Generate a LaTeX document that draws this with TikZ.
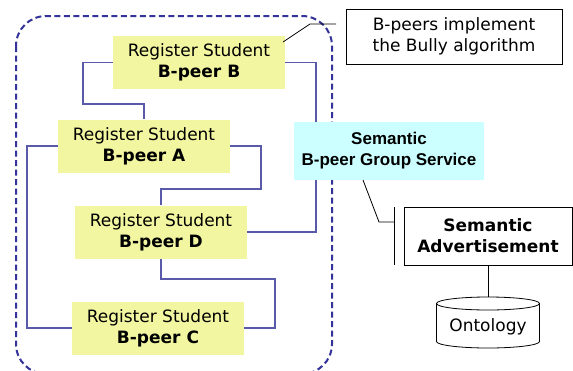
\documentclass[tikz,border=0pt]{standalone}
\usepackage{fontspec}
\setmainfont{DejaVu Sans}
\newfontfamily\arialfont{Liberation Sans}
\definecolor{peeryellow}{RGB}{243,246,160}
\definecolor{svccyan}{RGB}{204,255,255}
\definecolor{linkblue}{RGB}{90,90,170}
\definecolor{dashblue}{RGB}{51,51,153}
\begin{document}
\begin{tikzpicture}[x=1pt,y=-1pt,
  peer/.style={fill=peeryellow, minimum width=172pt, minimum height=53pt, inner sep=0pt, align=center, font=\fontsize{17}{21}\selectfont, execute at begin node={\rule{0pt}{16pt}}},
  svc/.style={fill=svccyan, minimum width=190pt, minimum height=58pt, inner sep=0pt, align=center, font=\arialfont\bfseries\fontsize{17}{21}\selectfont},
  notebox/.style={draw=black, line width=0.8pt, fill=white, minimum width=216pt, minimum height=55pt, inner sep=0pt, align=center, font=\fontsize{17}{21}\selectfont, execute at begin node={\rule{0pt}{17pt}}},
  advbox/.style={draw=black, line width=0.8pt, fill=white, minimum width=168pt, minimum height=58pt, inner sep=0pt, align=center, font=\bfseries\fontsize{17}{21}\selectfont, execute at begin node={\rule{0pt}{14pt}}},
  link/.style={draw=linkblue, line width=1.2pt},
  groupborder/.style={draw=dashblue, line width=2pt, dash pattern=on 6pt off 3.5pt, rounded corners=30pt},
  thin/.style={draw=black, line width=0.8pt}]
\useasboundingbox (0,0) rectangle (573,370);
% group border
\begin{scope}
\clip (0,0) rectangle (573,370);
\draw[groupborder] (16,16) rectangle (332,374);
\end{scope}
% nodes
\node[peer] (B) at (199,62.5) {Register Student\\\textbf{B-peer B}};
\node[peer] (A) at (144,146) {Register Student\\\textbf{B-peer A}};
\node[peer] (D) at (161,232) {Register Student\\\textbf{B-peer D}};
\node[peer] (C) at (158,328) {Register Student\\\textbf{B-peer C}};
% links
\draw[link] (B.west) -| (83,104) -| (A.north);
\draw[link] (B.east) -| (316,232) -- (D.east);
\draw[link] (A.west) -| (27,328) -- (C.west);
\draw[link] (A.east) -| (261,189) -| (D.north);
\draw[link] (D.south) |- (275,279) |- (C.east);
% service
\node[svc] (G) at (389,151) {Semantic\\B-peer Group Service};
% note
\node[notebox] (N) at (454,36.5) {B-peers implement\\the Bully algorithm};
\coordinate (nstart) at (283,42);
\coordinate (nend) at (336,24);
\draw[thin] (nstart) -- (310,24) -- (nend);
% advertisement
\node[advbox] (V) at (488,236) {Semantic\\Advertisement};
\coordinate (gs) at (363,180);
\coordinate (bk) at (394,222);
\draw[thin] (gs) -- (379,222) -- (bk);
\draw[thin] (394,207) -- (394,265);
% ontology
\node[minimum width=103pt, minimum height=51pt, inner sep=0pt] (O) at (488,322.5) {};
\draw[thin, fill=white] (436.5,303.5) -- (436.5,341.5) arc[start angle=180, end angle=0, x radius=51.5, y radius=6.5] -- (539.5,303.5);
\draw[thin, fill=white] (488,303.5) ellipse[x radius=51.5, y radius=6.5];
\node[font=\fontsize{17}{21}\selectfont] at (488,327) {Ontology};
\draw[thin] (V.south) -- (O.north);
\end{tikzpicture}
\end{document}
